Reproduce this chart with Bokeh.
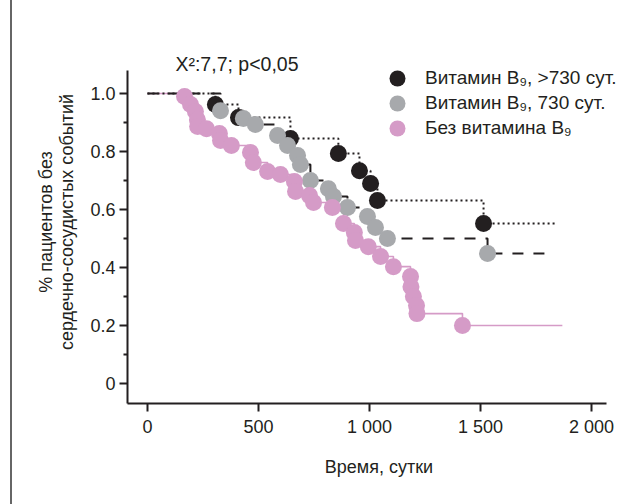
from bokeh.plotting import figure
from bokeh.models import FixedTicker, Legend, LegendItem, Range1d, Div, Label
from bokeh.layouts import row
from bokeh.embed import file_html
from bokeh.resources import INLINE

# ---- data ----
black_label = "Витамин B₉, >730 сут."
gray_label = "Витамин B₉, 730 сут."
pink_label = "Без витамина B₉"

black_t = [306, 410, 644, 860, 955, 1005, 1036, 1514]
black_s = [0.962, 0.917, 0.845, 0.793, 0.734, 0.690, 0.631, 0.552]
black_end = 1847

gray_t = [329, 432, 486, 586, 631, 676, 689, 734, 815, 838, 901, 991, 1027, 1081, 1532]
gray_s = [0.941, 0.914, 0.893, 0.855, 0.821, 0.786, 0.755, 0.700, 0.672, 0.645,
          0.607, 0.576, 0.538, 0.500, 0.448]
gray_end = 1815

pink_t = [167, 194, 216, 225, 226, 266, 324, 329, 378, 464, 477, 541, 599, 662, 667,
          730, 748, 833, 883, 932, 937, 995, 1050, 1108, 1185, 1187, 1198, 1212, 1214, 1419]
pink_s = [0.990, 0.962, 0.938, 0.910, 0.886, 0.879, 0.862, 0.838, 0.821, 0.797, 0.762,
          0.731, 0.721, 0.697, 0.662, 0.648, 0.624, 0.607, 0.552, 0.521, 0.493, 0.472,
          0.438, 0.403, 0.369, 0.334, 0.300, 0.269, 0.241, 0.200]
pink_end = 1869

x_ticks = [0, 500, 1000, 1500, 2000]
x_tick_labels = ["0", "500", "1 000", "1 500", "2 000"]
y_ticks = [0, 0.2, 0.4, 0.6, 0.8, 1.0]
y_tick_labels = ["0", "0.2", "0.4", "0.6", "0.8", "1.0"]
y_minor = [0.1, 0.3, 0.5, 0.7, 0.9]

stat_text = "X²:7,7; p<0,05"
x_title = "Время, сутки"
y_title = "% пациентов без\nсердечно-сосудистых событий"

# ---- style ----
INK = "#231f20"
BLACK = "#231f20"
GRAY = "#a7a9ac"
PINK = "#d59bc7"
FONT = "Liberation Sans"

X_AXIS = (-90, 2068)
Y_AXIS = (-0.069, 1.079)

p = figure(width=619, height=496, x_range=Range1d(-90, 2176), y_range=Range1d(-0.069, 1.183),
           min_border_left=114, min_border_right=2, min_border_top=40, min_border_bottom=93,
           output_backend="svg", toolbar_location=None)
p.grid.visible = False
p.outline_line_color = None
p.background_fill_color = "white"
p.border_fill_color = "white"

def steps(t, s, end):
    return [0] + list(t) + [end], [1.0] + list(s) + [s[-1]]

bx, by = steps(black_t, black_s, black_end)
gx, gy = steps(gray_t, gray_s, gray_end)
px_, py_ = steps(pink_t, pink_s, pink_end)

p.step(px_, py_, mode="after", line_color=PINK, line_width=1.6)
p.step(gx, gy, mode="after", line_color=INK, line_width=2, line_dash="11 10")
p.step(bx, by, mode="after", line_color=INK, line_width=2, line_dash="2 3")

rb = p.scatter(black_t, black_s, size=17, fill_color=BLACK, line_color=None)
rg = p.scatter(gray_t, gray_s, size=17, fill_color=GRAY, line_color=None)
rp = p.scatter(pink_t, pink_s, size=17, fill_color=PINK, line_color=None)

# axes
for ax in (p.xaxis, p.yaxis):
    ax.axis_line_width = 2
    ax.axis_line_color = INK
    ax.major_tick_line_width = 2
    ax.major_tick_line_color = INK
    ax.minor_tick_line_width = 2
    ax.minor_tick_line_color = INK
    ax.major_tick_in = 0
    ax.major_tick_out = 8
    ax.minor_tick_in = 0
    ax.minor_tick_out = 4
    ax.major_label_text_font = FONT
    ax.major_label_text_font_size = "18px"
    ax.major_label_text_color = INK
    ax.axis_label_text_font = FONT
    ax.axis_label_text_font_size = "18px"
    ax.axis_label_text_font_style = "normal"
    ax.axis_label_text_color = INK

p.xaxis.bounds = X_AXIS
p.xaxis.ticker = FixedTicker(ticks=x_ticks, minor_ticks=[])
p.xaxis.major_label_overrides = dict(zip(x_ticks, x_tick_labels))
p.xaxis.major_label_standoff = 5
p.xaxis.axis_label = x_title
p.xaxis.axis_label_standoff = 17

p.yaxis.bounds = Y_AXIS
p.yaxis.ticker = FixedTicker(ticks=y_ticks, minor_ticks=y_minor)
p.yaxis.major_label_overrides = dict(zip(y_ticks, y_tick_labels))
p.yaxis.major_label_standoff = 4
p.yaxis.axis_label = y_title
p.yaxis.axis_label_standoff = 10
p.yaxis.axis_label_text_line_height = 1.05

# statistic
p.add_layout(Label(x=126, y=1.103, text=stat_text, text_font=FONT, text_font_size="19.5px",
                   text_color=INK, text_baseline="alphabetic"))

# legend: one Legend per row so the rows sit 25px apart
for (lab, rend), ly in zip([(black_label, rb), (gray_label, rg), (pink_label, rp)],
                           [305, 280, 255]):
    lg = Legend(items=[LegendItem(label=lab, renderers=[rend])],
                location=(250, ly), glyph_width=40, glyph_height=40,
                padding=0, margin=0, border_line_color=None, background_fill_alpha=0,
                label_standoff=8, label_text_font=FONT, label_text_font_size="19px",
                label_text_color=INK)
    p.add_layout(lg)

# page border line at the left
edge = Div(text="", width=13, height=504, margin=0,
           styles={"background": "linear-gradient(to right, transparent 10px, #666666 10px, "
                                 "#666666 12px, transparent 12px)"})

layout = row(edge, p)
open("out.html", "w").write(file_html(layout, INLINE))
